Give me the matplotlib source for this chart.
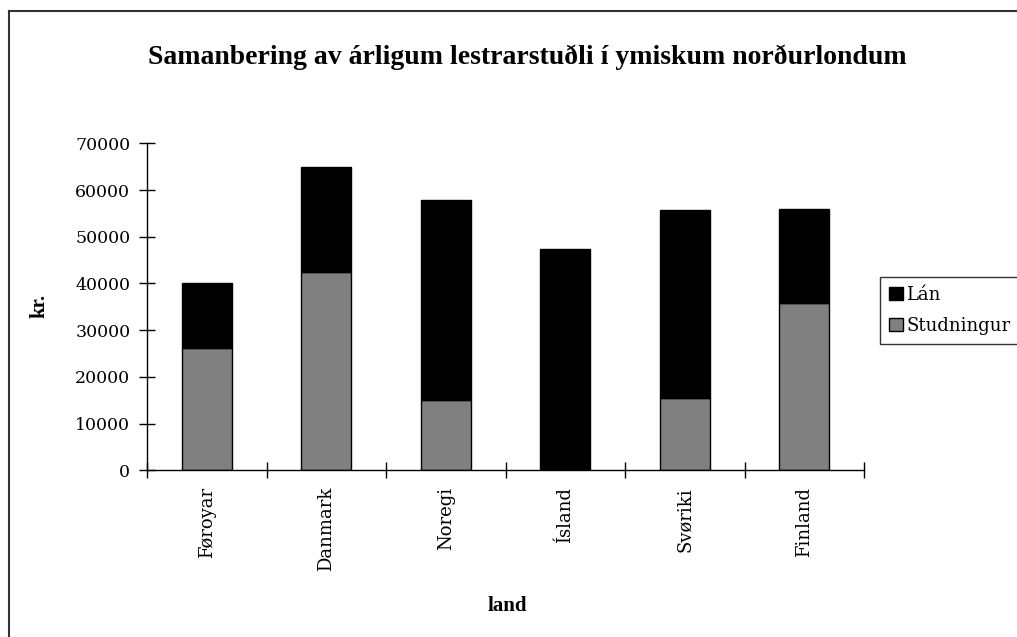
import matplotlib
matplotlib.use("Agg")
import matplotlib.pyplot as plt
from matplotlib.lines import Line2D

categories = ["Føroyar", "Danmark", "Noregi", "Ísland", "Svøriki", "Finland"]
studningur = [26100, 42400, 15000, 0, 15400, 35900]
lan = [13900, 22600, 42900, 47300, 40300, 20100]
yticks = [0, 10000, 20000, 30000, 40000, 50000, 60000, 70000]

plt.rcParams['font.family'] = ['Liberation Serif', 'DejaVu Serif']

fig = plt.figure(figsize=(10.17, 6.37), dpi=100)
ax = fig.add_axes([147/1017, 1-470.3/637, (864-147)/1017, (470.3-143.3)/637])

x = list(range(len(categories)))
w = 0.42
ax.bar(x, studningur, width=w, color='#808080', edgecolor='black', linewidth=1.0, label='Studningur')
ax.bar(x, lan, width=w, bottom=studningur, color='black', edgecolor='black', linewidth=1.0, label='Lán')

ax.set_xlim(-0.5, len(categories)-0.5)
ax.set_ylim(0, 70000)
ax.set_yticks(yticks)
ax.set_yticklabels([str(v) for v in yticks], fontsize=12.5)
ax.set_xticks([i + 0.5 for i in range(-1, len(categories))])
ax.set_xticklabels([])
ax.set_xticks(x, minor=True)
ax.set_xticklabels(categories, minor=True, rotation=90, fontsize=13)
ax.tick_params(axis='both', which='both', labelfontfamily='DejaVu Serif')
ax.tick_params(axis='x', which='minor', length=0, pad=12)
ax.tick_params(axis='x', which='major', direction='inout', length=12, width=1)
ax.tick_params(axis='y', direction='inout', length=12, width=1, pad=6)
for s in ['top', 'right']:
    ax.spines[s].set_visible(False)
for s in ['left', 'bottom']:
    ax.spines[s].set_linewidth(1)

fig.text(39/1017, 1-306/637, 'kr.', ha='center', va='center', rotation=90, fontsize=15, fontweight='bold')
fig.text(507/1017, 1-606/637, 'land', ha='center', va='center', fontsize=15, fontweight='bold')
fig.text(527/1017, 1-57/637, 'Samanbering av árligum lestrarstuðli í ymiskum norðurlondum',
         ha='center', va='center', fontsize=20, fontweight='bold')

handles, labels = ax.get_legend_handles_labels()
leg = fig.legend(handles[::-1], labels[::-1], loc='upper left', bbox_to_anchor=(880/1017, 1-277/637),
                 frameon=True, fancybox=False, edgecolor='black',
                 prop={'family': 'DejaVu Serif', 'size': 13},
                 handlelength=0.75, handleheight=0.75, handletextpad=0.2, borderpad=0.5,
                 labelspacing=0.7, borderaxespad=0)
leg.get_frame().set_linewidth(1)

# figure border (left and top visible)
fig.add_artist(Line2D([8.5/1017, 8.5/1017], [0, 1-11/637], color='#333333', lw=1.5, transform=fig.transFigure))
fig.add_artist(Line2D([8.5/1017, 1], [1-11/637, 1-11/637], color='#333333', lw=1.5, transform=fig.transFigure))

fig.savefig('out.png', dpi=100)
